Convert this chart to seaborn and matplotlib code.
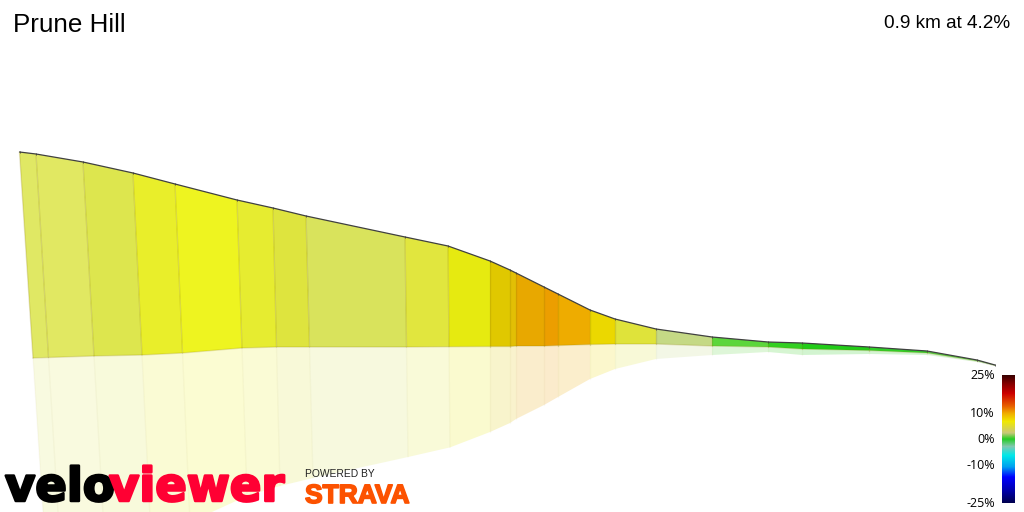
#!/usr/bin/env python3
"""
Climb profile for Prune Hill, drawn as a 3D style ribbon with its reflection
"""

import numpy as np
import pandas as pd
import seaborn as sns
import matplotlib
matplotlib.use('Agg')
import matplotlib.pyplot as plt
import matplotlib.patheffects as pe
from matplotlib.colors import LinearSegmentedColormap

# Ribbon back edge and base edge
top_x = [19.5, 36, 83, 133, 175, 237, 273, 306, 405, 448, 490, 510, 516, 544, 558,
         590, 615, 656, 712, 768, 802, 869, 927, 977, 995]
top_y = [152, 154, 162, 173, 184, 200, 208, 216, 237, 246, 261, 270, 273, 287, 294,
         310, 319, 329, 337, 342, 343, 347, 351, 360, 365]
base_x = [33, 48.5, 94, 142, 182.5, 242, 276.5, 309.5, 406.5, 449, 490, 510, 516, 544, 558,
          590, 615, 656, 712, 768, 802, 869, 927, 977, 995]
base_y = [358, 357.5, 356, 355, 353, 348, 347, 347, 347, 346.7, 346.5, 346.5, 346, 346, 345.5,
          344.5, 344, 344, 346, 347, 349, 350.5, 353, 361, 365.5]

# One colour per stretch between two points
segment_colors = ['#e0e864', '#e1e862', '#dde64e', '#e9ee2a', '#eef420', '#e6ec30',
                  '#dee43e', '#d9e35c', '#e1e63e', '#e6ea10', '#e0c800', '#e2bf05',
                  '#e8a800', '#ec9e00', '#eeac00', '#ebd800', '#dfe33a', '#c5d985',
                  '#5cd63c', '#32d020', '#22cc18', '#30d028', '#50d040', '#60d060']

# Gradient scale
scale_ticks = [25, 10, 0, -10, -25]
scale_labels = ['25%', '10%', '0%', '-10%', '-25%']
scale_stops = [(-25, '#000050'), (-20, '#0000b0'), (-15, '#0000ff'), (-11, '#00a0f0'),
               (-6.5, '#00e8e8'), (-3, '#80c8b0'), (0, '#20cc20'), (2.5, '#c8c878'),
               (7, '#f0e800'), (10, '#f0b000'), (13, '#e86000'), (18, '#cc0000'),
               (22, '#800000'), (25, '#3a0000')]


def draw_ribbon(ax):
    """Draw the coloured faces, their reflection and the profile line"""
    for i, color in enumerate(segment_colors):
        xs = [top_x[i], top_x[i + 1], base_x[i + 1], base_x[i]]
        ys = [top_y[i], top_y[i + 1], base_y[i + 1], base_y[i]]
        ax.fill(xs, ys, color=color, lw=0, zorder=2)

        # reflection is the same face flipped about the base edge
        low_x = [2 * b - t for b, t in zip(base_x[i:i + 2], top_x[i:i + 2])]
        low_y = [2 * b - t for b, t in zip(base_y[i:i + 2], top_y[i:i + 2])]
        ax.fill([base_x[i], base_x[i + 1], low_x[1], low_x[0]],
                [base_y[i], base_y[i + 1], low_y[1], low_y[0]],
                color=color, alpha=0.2, lw=0, zorder=1)

    for i in range(len(top_x) - 1):
        ax.plot([top_x[i], base_x[i]], [top_y[i], base_y[i]],
                color='#8a7a00', alpha=0.22, lw=1, zorder=3)
        ax.plot([base_x[i], 2 * base_x[i] - top_x[i]], [base_y[i], 2 * base_y[i] - top_y[i]],
                color='#8a7a00', alpha=0.04, lw=1, zorder=1)

    ax.plot(base_x, base_y, color='#8a7a00', alpha=0.2, lw=1, zorder=3)
    profile = pd.DataFrame({'x': top_x, 'y': top_y})
    sns.lineplot(data=profile, x='x', y='y', ax=ax, color='#404040', lw=0.9,
                 sort=False, zorder=4, errorbar=None,
                 marker='|', markersize=2, markeredgewidth=0.6, markeredgecolor='#404040')


def draw_scale(fig):
    """Gradient colour scale in the bottom right corner"""
    cmap = LinearSegmentedColormap.from_list(
        'grade', [((g + 25) / 50, c) for g, c in scale_stops])
    cax = fig.add_axes([1002 / 1024, 1 - 503 / 512, 13 / 1024, 128 / 512])
    ramp = pd.DataFrame(np.linspace(25, -25, 128).reshape(-1, 1))
    sns.heatmap(ramp, ax=cax, cmap=cmap, vmin=-25, vmax=25, cbar=False,
                xticklabels=False, yticklabels=False)
    cax.set_xlabel('')
    cax.set_ylabel('')


def draw_text(ax):
    """Titles, scale labels and logos"""
    ax.text(13, 32, 'Prune Hill', fontsize=18.7, color='black', family='Liberation Sans')
    ax.text(1010, 28, '0.9 km at 4.2%', fontsize=13.7, ha='right', color='black',
            family='Liberation Sans')

    for tick, label in zip(scale_ticks, scale_labels):
        ax.text(995, 439.5 - tick * 2.56, label, fontsize=9, ha='right', va='center',
                color='black', family='Open Sans')

    thick = [pe.withStroke(linewidth=1.8, foreground='black')]
    ax.text(5, 501, 'velo', fontsize=33.5, fontweight='bold', color='black',
            family='DejaVu Sans', path_effects=thick, zorder=6)
    thick = [pe.withStroke(linewidth=1.8, foreground='#ff0033')]
    ax.text(109, 501, 'viewer', fontsize=33.5, fontweight='bold', color='#ff0033',
            family='DejaVu Sans', path_effects=thick, zorder=6)

    ax.text(305, 477, 'POWERED BY', fontsize=7.4, color='#222222',
            family='Liberation Sans', zorder=6)
    thick = [pe.withStroke(linewidth=1.2, foreground='#fc5200')]
    ax.text(305, 503, 'STRAVA', fontsize=19, fontweight='bold', color='#fc5200',
            family='Liberation Sans', path_effects=thick, zorder=6)


def main():
    sns.set_theme(style='white')
    fig = plt.figure(figsize=(10.24, 5.12), dpi=100)
    ax = fig.add_axes([0, 0, 1, 1])

    draw_ribbon(ax)
    ax.set_xlim(0, 1024)
    ax.set_ylim(512, 0)
    ax.axis('off')

    draw_scale(fig)
    draw_text(ax)

    fig.savefig('out.png', dpi=100)
    plt.close(fig)


if __name__ == "__main__":
    main()
